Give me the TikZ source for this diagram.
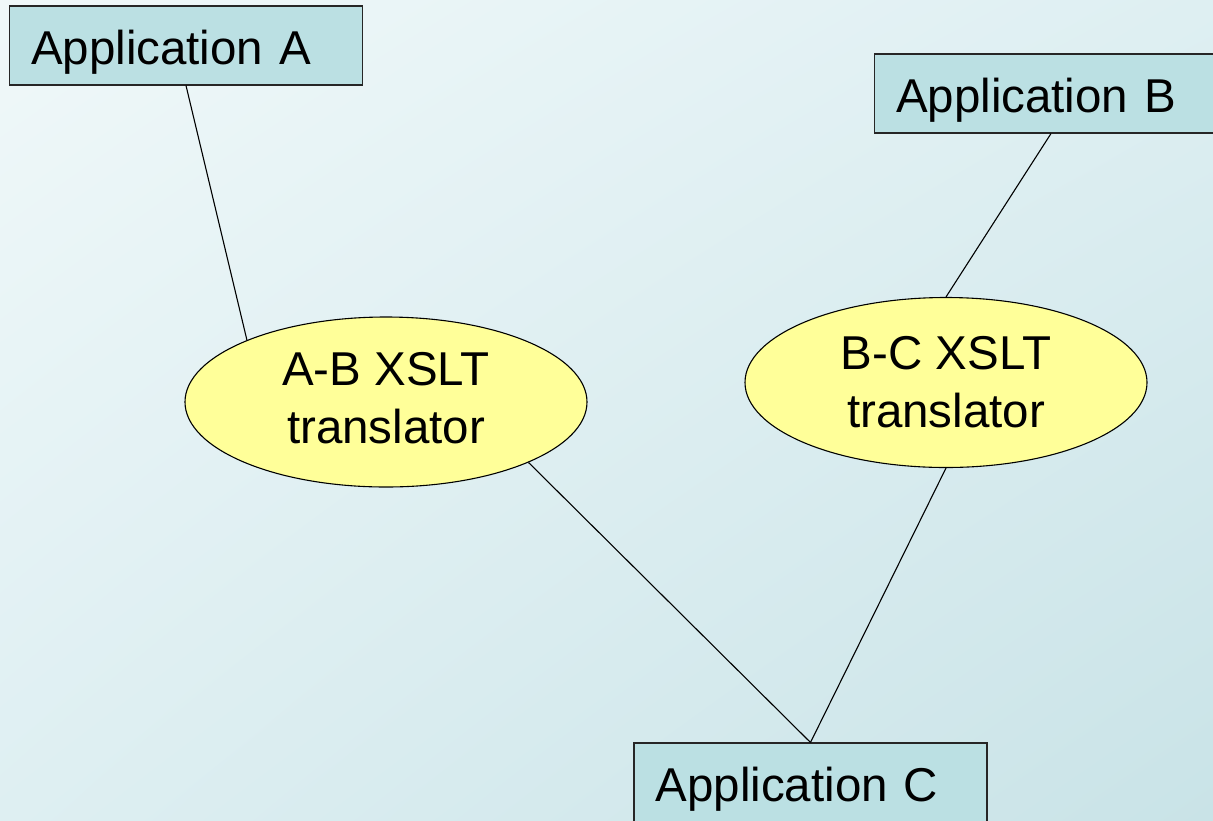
\documentclass[tikz,border=0pt]{standalone}
\usepackage{fontspec}
\setmainfont{Liberation Sans}
\usetikzlibrary{shapes.geometric,shadings}
\definecolor{bgA}{HTML}{F0F8F9}
\definecolor{bgB}{HTML}{DEEFF2}
\definecolor{bgC}{HTML}{C9E3E7}
\definecolor{appfill}{HTML}{BBE0E3}
\definecolor{xsltfill}{HTML}{FFFF99}
\tikzset{
  appbox/.style={draw=black!85, line width=1.1pt, fill=appfill, rectangle,
    minimum width=353pt, minimum height=79pt, text width=310pt,
    text height=38.5pt, text depth=0pt,
    inner xsep=21.5pt, align=left, font=\fontsize{47.5}{55}\selectfont},
  xslt/.style={draw=black, line width=1.1pt, fill=xsltfill, ellipse,
    minimum width=402pt, minimum height=170pt, inner sep=0pt, align=center,
    font=\fontsize{47.5}{58}\selectfont},
  link/.style={draw=black, line width=1.1pt}
}
\begin{document}
\begin{tikzpicture}[x=1pt, y=-1pt]
  \useasboundingbox (0,0) rectangle (1213,820);
  \clip (0,0) rectangle (1213,820);
  % slide background
  \shade[upper left=bgA, upper right=bgB, lower left=bgB, lower right=bgC]
    (0,0) rectangle (1213,820);

  % applications and translators
  \node[appbox] (A) at (186,45.5) {Application A};
  \node[appbox] (B) at (1051,93.5) {Application B};
  \node[appbox] (C) at (810.5,782.5) {Application C};
  \node[xslt] (AB) at (386,402) {};
  \node[font=\fontsize{47.5}{58}\selectfont, align=center, inner sep=0pt]
    (ABtext) at (386,398) {A-B XSLT\\translator};
  \node[xslt] (BC) at (946,382.5) {B-C XSLT\\translator};

  % connections
  \draw[link] (A.south) -- (AB.156.5);
  \draw[link] (AB.-23) -- (C.north);
  \draw[link] (B.south) -- (BC.north);
  \draw[link] (BC.south) -- (C.north);
\end{tikzpicture}
\end{document}
